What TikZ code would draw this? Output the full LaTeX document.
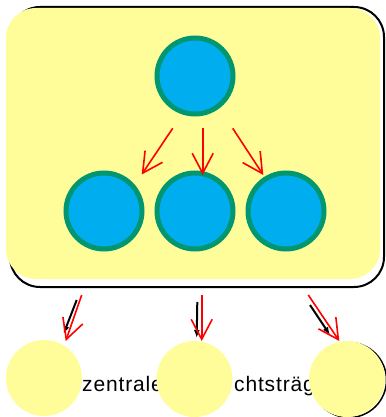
\documentclass[tikz,border=0pt]{standalone}
\usepackage{fontspec}
\newfontfamily\schrift[LetterSpace=4]{Liberation Sans}
\usetikzlibrary{arrows.meta}
\definecolor{gelb}{RGB}{255,253,153}
\definecolor{blau}{RGB}{0,174,239}
\definecolor{gruen}{RGB}{0,150,112}
\tikzset{
  kreis/.style={circle,fill=blau,draw=gruen,line width=5pt,minimum size=76pt,inner sep=0pt},
  punkt/.style={circle,fill=gelb,minimum size=76pt,inner sep=0pt},
  pfeil/.style={red,line width=1.6pt,-{Straight Barb[length=20pt,width=21pt]}},
  altpfeil/.style={black,line width=2pt,-{Latex[length=8pt,width=6pt]}},
  schrift/.style={anchor=base west,inner sep=0pt,font=\schrift\fontsize{21}{25}\selectfont}
}
\begin{document}
\begin{tikzpicture}[x=1pt,y=-1pt]
\useasboundingbox (0,0) rectangle (385,417);
% Rahmen
\draw[line width=2pt,rounded corners=30pt] (10,7) rectangle (384,287);
\fill[gelb,rounded corners=30pt] (6,8) rectangle (380,279);
% Kreise im Rahmen
\node[kreis] (oben) at (195,76) {};
\node[kreis] (links) at (104,211) {};
\node[kreis] (mitte) at (195,211) {};
\node[kreis] (rechts) at (286,211) {};
\coordinate (a1) at (172.7,128.3);
\coordinate (a2) at (202.7,128.3);
\coordinate (a3) at (232.7,128.3);
\coordinate (b1) at (141.7,174.5);
\coordinate (b2) at (202.7,175);
\coordinate (b3) at (263.3,175);
\draw[pfeil] (a1) -- (b1);
\draw[pfeil] (a2) -- (b2);
\draw[pfeil] (a3) -- (b3);
% Beschriftung unten
\node[schrift] (t1) at (82,391) {zentrale};
\node[schrift] (t2) at (234,391) {chtsträg};
% Pfeile nach unten
\coordinate (c1) at (76.7,300);
\coordinate (c2) at (197.3,302);
\coordinate (c3) at (310,305);
\coordinate (d1) at (63.5,334);
\coordinate (d2) at (196.7,338);
\coordinate (d3) at (330,335);
\draw[altpfeil] (c1) -- (d1);
\draw[altpfeil] (c2) -- (d2);
\draw[altpfeil] (c3) -- (d3);
\coordinate (e1) at (81.7,295);
\coordinate (e2) at (201.7,295);
\coordinate (e3) at (308.3,295);
\coordinate (f1) at (65.7,341);
\coordinate (f2) at (201.7,341);
\coordinate (f3) at (339.3,341);
\draw[pfeil] (e1) -- (f1);
\draw[pfeil] (e2) -- (f2);
\draw[pfeil] (e3) -- (f3);
% gelbe Punkte
\draw[line width=1.5pt] (349,380) circle[radius=37.5pt];
\node[punkt] (p1) at (44,378) {};
\node[punkt] (p2) at (194.5,379) {};
\node[punkt] (p3) at (347,379) {};
\end{tikzpicture}
\end{document}
